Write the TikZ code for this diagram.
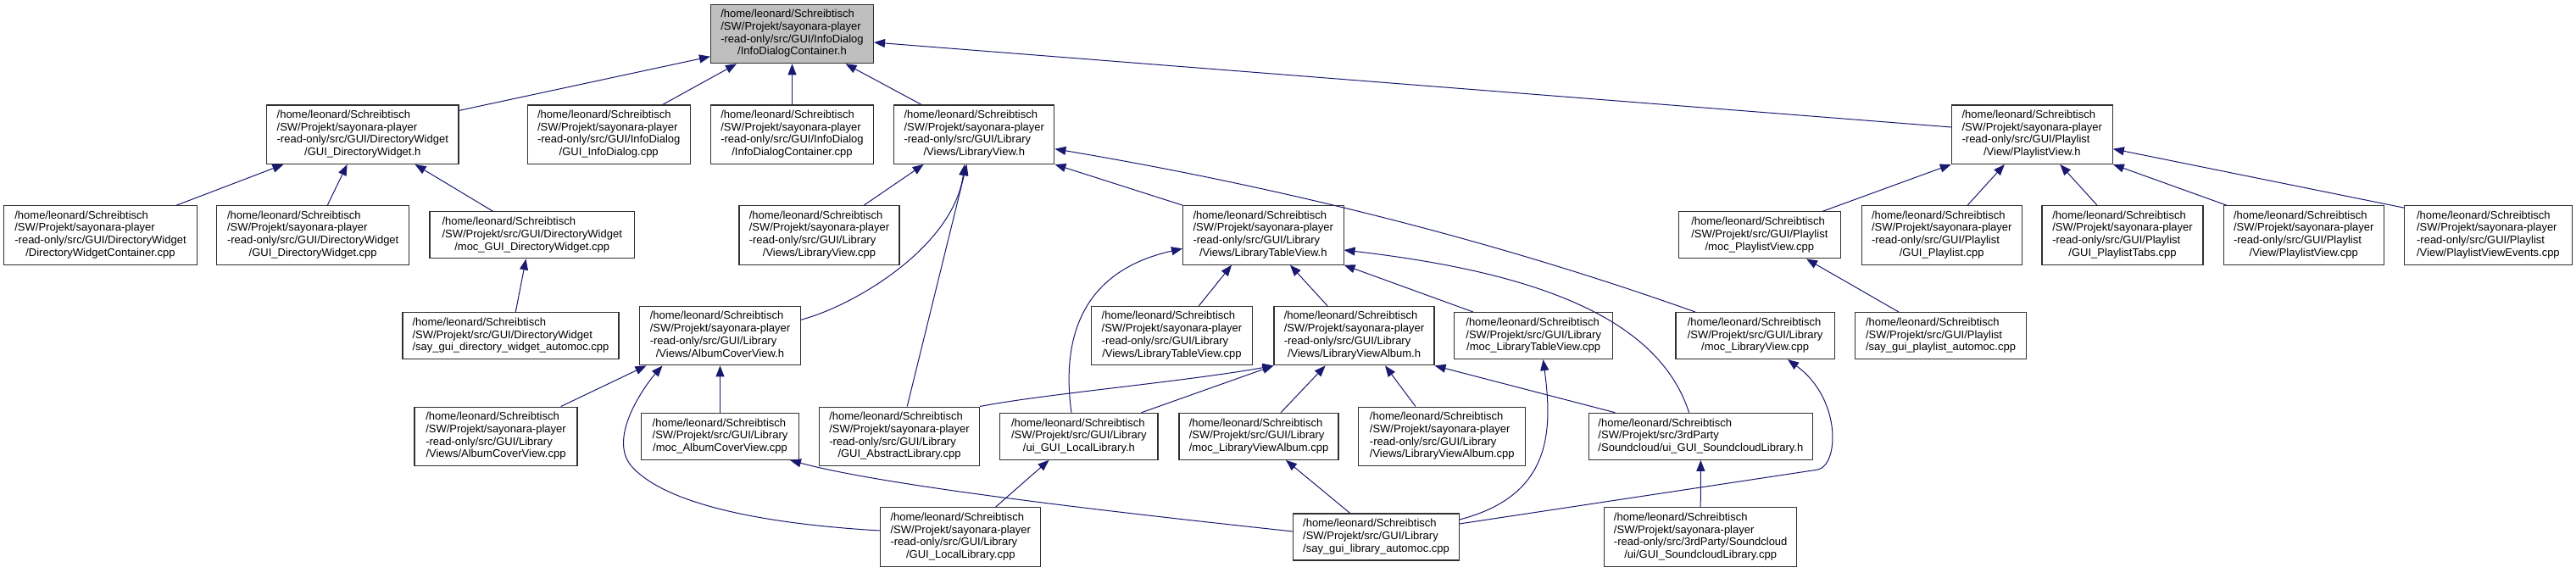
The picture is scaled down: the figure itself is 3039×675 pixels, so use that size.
\documentclass[tikz,border=0pt]{standalone}
\usepackage{fontspec}
\setmainfont{Liberation Sans}
\usetikzlibrary{arrows.meta,calc}
\definecolor{edgeblue}{HTML}{191970}
\definecolor{rootgray}{HTML}{BFBFBF}
\definecolor{boxline}{HTML}{303030}
\newcommand{\lbl}[2]{\begin{tabular}{@{}l@{}}#1\\\multicolumn{1}{@{}c@{}}{#2}\end{tabular}}
\begin{document}
\begin{tikzpicture}[x=1pt,y=-1pt,
  box/.style={draw=boxline, line width=1.1pt, fill=white, inner sep=0pt, align=center,
    font=\fontsize{13}{14.7}\selectfont},
  boxf/.style={box, minimum height=69.5pt},
  boxt/.style={box, minimum height=55pt},
  dep/.style={draw=edgeblue, line width=1pt, -{Triangle[length=13pt,width=10pt]}}]
\path[use as bounding box] (0,0) rectangle (3039,675);
% rank 0
\node[boxf, fill=rootgray, minimum width=192pt] (idch) at (934.5,40) {\lbl{/home/leonard/Schreibtisch\\/SW/Projekt/sayonara-player\\-read-only/src/GUI/InfoDialog}{/InfoDialogContainer.h}};
% rank 1
\node[boxf, minimum width=226.4pt] (dwh) at (427.8,158.7) {\lbl{/home/leonard/Schreibtisch\\/SW/Projekt/sayonara-player\\-read-only/src/GUI/DirectoryWidget}{/GUI\_DirectoryWidget.h}};
\node[boxf, minimum width=192.3pt] (idcpp) at (718.2,158.7) {\lbl{/home/leonard/Schreibtisch\\/SW/Projekt/sayonara-player\\-read-only/src/GUI/InfoDialog}{/GUI\_InfoDialog.cpp}};
\node[boxf, minimum width=192pt] (idccpp) at (934.5,158.7) {\lbl{/home/leonard/Schreibtisch\\/SW/Projekt/sayonara-player\\-read-only/src/GUI/InfoDialog}{/InfoDialogContainer.cpp}};
\node[boxf, minimum width=189.1pt] (lvh) at (1149.3,158.7) {\lbl{/home/leonard/Schreibtisch\\/SW/Projekt/sayonara-player\\-read-only/src/GUI/Library}{/Views/LibraryView.h}};
\node[boxf, minimum width=190pt] (pvh) at (2397.3,158.7) {\lbl{/home/leonard/Schreibtisch\\/SW/Projekt/sayonara-player\\-read-only/src/GUI/Playlist}{/View/PlaylistView.h}};
% rank 2
\node[boxf, minimum width=227.4pt] (dwccpp) at (118.5,277.4) {\lbl{/home/leonard/Schreibtisch\\/SW/Projekt/sayonara-player\\-read-only/src/GUI/DirectoryWidget}{/DirectoryWidgetContainer.cpp}};
\node[boxf, minimum width=227.3pt] (dwcpp) at (369.2,277.4) {\lbl{/home/leonard/Schreibtisch\\/SW/Projekt/sayonara-player\\-read-only/src/GUI/DirectoryWidget}{/GUI\_DirectoryWidget.cpp}};
\node[boxt, minimum width=241.4pt] (mocdw) at (627.7,277.4) {\lbl{/home/leonard/Schreibtisch\\/SW/Projekt/src/GUI/DirectoryWidget}{/moc\_GUI\_DirectoryWidget.cpp}};
\node[boxf, minimum width=189pt] (lvcpp) at (966.5,277.4) {\lbl{/home/leonard/Schreibtisch\\/SW/Projekt/sayonara-player\\-read-only/src/GUI/Library}{/Views/LibraryView.cpp}};
\node[boxf, minimum width=189.5pt] (ltvh) at (1490.3,277.4) {\lbl{/home/leonard/Schreibtisch\\/SW/Projekt/sayonara-player\\-read-only/src/GUI/Library}{/Views/LibraryTableView.h}};
\node[boxt, minimum width=190.5pt] (mocpv) at (2075.8,277.4) {\lbl{/home/leonard/Schreibtisch\\/SW/Projekt/src/GUI/Playlist}{/moc\_PlaylistView.cpp}};
\node[boxf, minimum width=189pt] (guipl) at (2290.7,277.4) {\lbl{/home/leonard/Schreibtisch\\/SW/Projekt/sayonara-player\\-read-only/src/GUI/Playlist}{/GUI\_Playlist.cpp}};
\node[boxf, minimum width=190pt] (pltabs) at (2504,277.4) {\lbl{/home/leonard/Schreibtisch\\/SW/Projekt/sayonara-player\\-read-only/src/GUI/Playlist}{/GUI\_PlaylistTabs.cpp}};
\node[boxf, minimum width=189pt] (pvcpp) at (2717.7,277.4) {\lbl{/home/leonard/Schreibtisch\\/SW/Projekt/sayonara-player\\-read-only/src/GUI/Playlist}{/View/PlaylistView.cpp}};
\node[boxf, minimum width=197.8pt] (pvecpp) at (2935.4,277.4) {\lbl{/home/leonard/Schreibtisch\\/SW/Projekt/sayonara-player\\-read-only/src/GUI/Playlist}{/View/PlaylistViewEvents.cpp}};
% rank 3
\node[boxt, minimum width=255pt] (saydir) at (602.5,396.1) {\lbl{/home/leonard/Schreibtisch\\/SW/Projekt/src/GUI/DirectoryWidget}{/say\_gui\_directory\_widget\_automoc.cpp}};
\node[boxf, minimum width=189.5pt] (acvh) at (849.5,396.1) {\lbl{/home/leonard/Schreibtisch\\/SW/Projekt/sayonara-player\\-read-only/src/GUI/Library}{/Views/AlbumCoverView.h}};
\node[boxf, minimum width=190pt] (ltvcpp) at (1382.4,396.1) {\lbl{/home/leonard/Schreibtisch\\/SW/Projekt/sayonara-player\\-read-only/src/GUI/Library}{/Views/LibraryTableView.cpp}};
\node[boxf, minimum width=189pt] (lvah) at (1597.5,396.1) {\lbl{/home/leonard/Schreibtisch\\/SW/Projekt/sayonara-player\\-read-only/src/GUI/Library}{/Views/LibraryViewAlbum.h}};
\node[boxt, minimum width=186.7pt] (mocltv) at (1809.2,396.1) {\lbl{/home/leonard/Schreibtisch\\/SW/Projekt/src/GUI/Library}{/moc\_LibraryTableView.cpp}};
\node[boxt, minimum width=187.2pt] (moclv) at (2070.6,396.1) {\lbl{/home/leonard/Schreibtisch\\/SW/Projekt/src/GUI/Library}{/moc\_LibraryView.cpp}};
\node[boxt, minimum width=202pt] (saypl) at (2289.5,396.1) {\lbl{/home/leonard/Schreibtisch\\/SW/Projekt/src/GUI/Playlist}{/say\_gui\_playlist\_automoc.cpp}};
% rank 4
\node[boxf, minimum width=192pt] (acvcpp) at (585,514.8) {\lbl{/home/leonard/Schreibtisch\\/SW/Projekt/sayonara-player\\-read-only/src/GUI/Library}{/Views/AlbumCoverView.cpp}};
\node[boxt, minimum width=186.5pt] (mocacv) at (849.5,514.8) {\lbl{/home/leonard/Schreibtisch\\/SW/Projekt/src/GUI/Library}{/moc\_AlbumCoverView.cpp}};
\node[boxf, minimum width=189pt] (abslib) at (1061,514.8) {\lbl{/home/leonard/Schreibtisch\\/SW/Projekt/sayonara-player\\-read-only/src/GUI/Library}{/GUI\_AbstractLibrary.cpp}};
\node[boxt, minimum width=186.2pt] (uill) at (1272.9,514.8) {\lbl{/home/leonard/Schreibtisch\\/SW/Projekt/src/GUI/Library}{/ui\_GUI\_LocalLibrary.h}};
\node[boxt, minimum width=188pt] (moclva) at (1485,514.8) {\lbl{/home/leonard/Schreibtisch\\/SW/Projekt/src/GUI/Library}{/moc\_LibraryViewAlbum.cpp}};
\node[boxf, minimum width=196.8pt] (lvacpp) at (1701.3,514.8) {\lbl{/home/leonard/Schreibtisch\\/SW/Projekt/sayonara-player\\-read-only/src/GUI/Library}{/Views/LibraryViewAlbum.cpp}};
\node[boxt, minimum width=264.2pt] (uisc) at (2006.4,514.8) {\lbl{/home/leonard/Schreibtisch\\/SW/Projekt/src/3rdParty}{/Soundcloud/ui\_GUI\_SoundcloudLibrary.h}};
% rank 5
\node[boxf, minimum width=189pt] (gllcpp) at (1133.3,633.5) {\lbl{/home/leonard/Schreibtisch\\/SW/Projekt/sayonara-player\\-read-only/src/GUI/Library}{/GUI\_LocalLibrary.cpp}};
\node[boxt, minimum width=195.4pt] (saylib) at (1623.5,633.5) {\lbl{/home/leonard/Schreibtisch\\/SW/Projekt/src/GUI/Library}{/say\_gui\_library\_automoc.cpp}};
\node[boxf, minimum width=226.8pt] (sccpp) at (2006.2,633.5) {\lbl{/home/leonard/Schreibtisch\\/SW/Projekt/sayonara-player\\-read-only/src/3rdParty/Soundcloud}{/ui/GUI\_SoundcloudLibrary.cpp}};
% edges
\draw[dep] ([yshift=-7pt]dwh.north east) -- ([yshift=-26.7pt]idch.west);
\draw[dep] ([xshift=63.6pt]idcpp.north) -- ([xshift=-65.5pt]idch.south);
\draw[dep] (idccpp.north) -- (idch.south);
\draw[dep] ([xshift=-62.3pt]lvh.north) -- ([xshift=63pt]idch.south);
\draw[dep] ([yshift=8.7pt]pvh.west) -- ([yshift=-10pt]idch.east);
\draw[dep] ([xshift=89.9pt]dwccpp.north) -- ([xshift=-93.3pt]dwh.south);
\draw[dep] ([xshift=17.1pt]dwcpp.north) -- ([xshift=-18.2pt]dwh.south);
\draw[dep] ([xshift=-46pt]mocdw.north) -- ([xshift=61.8pt]dwh.south);
\draw[dep] ([xshift=5.8pt]saydir.north) -- ([xshift=-7.2pt]mocdw.south);
\draw[dep] ([xshift=52.8pt]lvcpp.north) -- ([xshift=-59.7pt]lvh.south);
\draw[dep] ([yshift=18.8pt]acvh.east) .. controls (1010,360) and (1125,290) .. ([xshift=-11.3pt]lvh.south);
\draw[dep] ([xshift=9.2pt]abslib.north) -- ([xshift=-8.8pt]lvh.south);
\draw[dep] (ltvh.north west) -- (lvh.south east);
\draw[dep] ([xshift=-70.6pt]moclv.north) .. controls (1750,279) and (1495,218) .. ([yshift=-17pt]lvh.east);
\draw[dep] ([xshift=32pt]ltvcpp.north) -- ([xshift=-37.3pt]ltvh.south);
\draw[dep] ([xshift=-31.5pt]lvah.north) -- ([xshift=31.7pt]ltvh.south);
\draw[dep] ([xshift=-71.2pt]mocltv.north) -- (ltvh.south east);
\draw[dep] ([xshift=-13.8pt]uisc.north) .. controls (1955,370) and (1800,320) .. ([yshift=-17.6pt]ltvh.east);
\draw[dep] ([xshift=-101pt]uisc.north) -- (lvah.south east);
\draw[dep] ([xshift=-31.3pt]lvacpp.north) -- ([xshift=36.5pt]lvah.south);
\draw[dep] ([xshift=26pt]moclva.north) -- ([xshift=-33.9pt]lvah.south);
\draw[dep] ([xshift=73.6pt]uill.north) -- (lvah.south west);
\draw[dep] (abslib.north east) .. controls (1230,465) and (1400,450) .. (lvah.south west);
\draw[dep] ([xshift=-8.9pt]uill.north) .. controls (1252,400) and (1275,320) .. ([yshift=-15.9pt]ltvh.west);
\draw[dep] ([xshift=41.2pt]gllcpp.north) -- ([xshift=-35.4pt]uill.south);
\draw[dep] ([yshift=7.5pt]gllcpp.west) .. controls (900,618) and (785,595) .. (745,550) .. controls (715,515) and (765,450) .. ([xshift=-68pt]acvh.south);
\draw[dep] ([xshift=76.7pt]acvcpp.north) -- ([xshift=-87pt]acvh.south);
\draw[dep] (mocacv.north) -- (acvh.south);
\draw[dep] ([yshift=6.5pt]saylib.west) .. controls (1350,608) and (1050,575) .. ([xshift=82.5pt]mocacv.south);
\draw[dep] ([xshift=-30.8pt]saylib.north) -- ([xshift=32pt]moclva.south);
\draw[dep] ([yshift=20.5pt]saylib.east) .. controls (1830,585) and (1832,510) .. ([xshift=11.3pt]mocltv.south);
\draw[dep] ([yshift=15.5pt]saylib.east) -- (2145,554) .. controls (2170,547) and (2172,470) .. ([xshift=38.4pt]moclv.south);
\draw[dep] (sccpp.north) -- (uisc.south);
\draw[dep] ([xshift=-49.5pt]saypl.north) -- ([xshift=55.2pt]mocpv.south);
\draw[dep] ([xshift=74.2pt]mocpv.north) -- (pvh.south west);
\draw[dep] ([xshift=30.5pt]guipl.north) -- ([xshift=-32.5pt]pvh.south);
\draw[dep] ([xshift=-30pt]pltabs.north) -- ([xshift=33pt]pvh.south);
\draw[dep] ([xshift=-91.1pt]pvcpp.north) -- (pvh.south east);
\draw[dep] ([yshift=-3pt]pvecpp.north west) -- ([yshift=-17pt]pvh.east);
\end{tikzpicture}
\end{document}
